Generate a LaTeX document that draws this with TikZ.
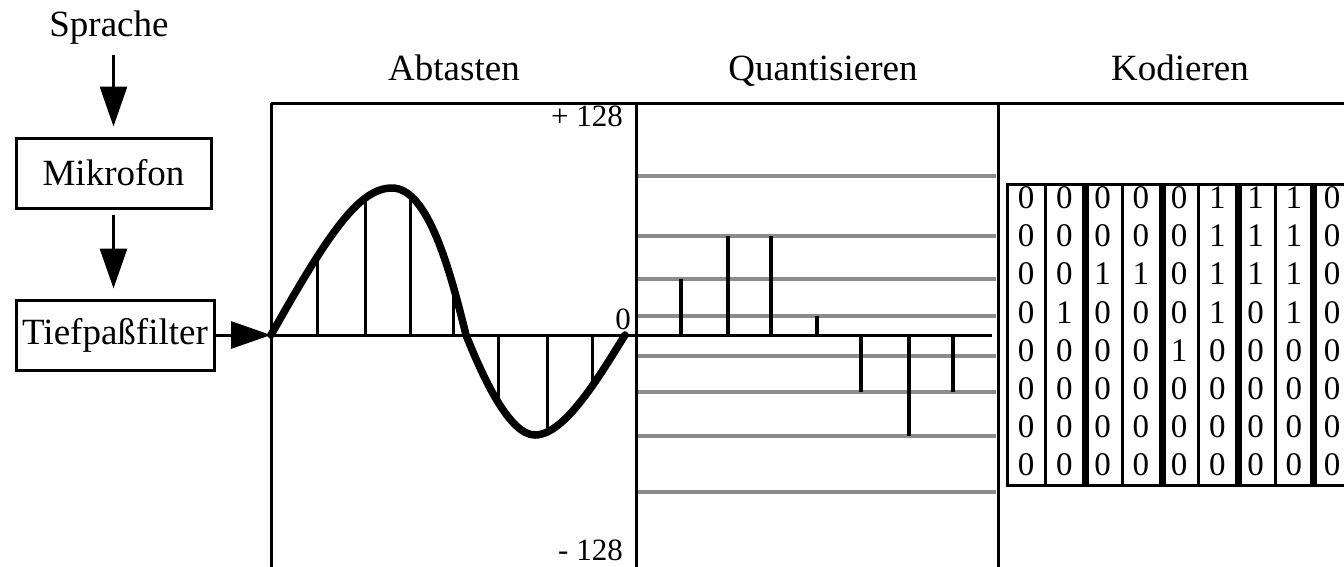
\documentclass[tikz,border=0pt]{standalone}
\usepackage{fontspec}
\setmainfont{Liberation Serif}
\usetikzlibrary{arrows.meta,positioning}
\tikzset{
  frame/.style  = { line width=3pt, black },
  wave/.style   = { line width=7.5pt, black, line cap=round },
  sample/.style = { line width=3pt, black },
  axis/.style   = { line width=3pt, black },
  qline/.style  = { line width=3.5pt, black!45 },
  qbar/.style   = { line width=4pt, black },
  box/.style    = { draw, line width=3pt, inner sep=0pt, minimum height=70pt },
  flow/.style   = { line width=3pt, -{Triangle[length=40pt,width=27pt]} },
  lbl/.style    = { inner sep=0pt, font=\fontsize{37}{42}\selectfont },
  num/.style    = { inner sep=0pt, font=\fontsize{31}{36}\selectfont },
  bit/.style    = { inner sep=0pt, font=\fontsize{33}{38}\selectfont },
  sep_thin/.style  = { line width=3pt, black },
  sep_thick/.style = { line width=7pt, black },
}
\begin{document}
\begin{tikzpicture}[x=1pt,y=-1pt]
    \useasboundingbox (0,0) rectangle (1344,566);

    % Signalweg links
    \node[lbl,anchor=base] (sprache) at (109,36) {Sprache};
    \node[box,minimum width=195pt,lbl] (mikro) at (113.5,173) {Mikrofon};
    \node[box,minimum width=198pt,lbl] (filter) at (115,335) {Tiefpaßfilter};
    \coordinate (in) at (271,335);

    \draw[flow,shorten <=11pt,shorten >=10pt] (sprache.south -| mikro.north) -- (mikro.north);
    \draw[flow,shorten <=5pt,shorten >=10pt] (mikro.south) -- (mikro.south |- filter.north);
    \draw[flow] (filter.east) -- (in);

    % Ueberschriften
    \node[lbl,anchor=base] (abt) at (454,80) {Abtasten};
    \node[lbl,anchor=base] (quant) at (823,80) {Quantisieren};
    \node[lbl,anchor=base] (kod) at (1180,80) {Kodieren};

    % Rahmen
    \draw[frame] (271,103) -- (1350,103);
    \draw[frame] (271,103) -- (271,570);
    \draw[frame] (636,103) -- (636,570);
    \draw[frame] (998,103) -- (998,570);

    % Quantisierungsstufen
    \draw[qline] (638,176) -- (996,176);
    \draw[qline] (638,236) -- (996,236);
    \draw[qline] (638,279) -- (996,279);
    \draw[qline] (638,316) -- (996,316);
    \draw[qline] (638,356) -- (996,356);
    \draw[qline] (638,392) -- (996,392);
    \draw[qline] (638,436) -- (996,436);
    \draw[qline] (638,492) -- (996,492);

    % Achse
    \draw[axis] (in) -- (992,335);

    \node[num,anchor=north east] (pmax) at (623,106) {+ 128};
    \node[num,anchor=south east] (pmin) at (623,561) {- 128};
    \node[num] (null) at (623,319) {0};

    % Abtastwerte
    \draw[sample] (317,335) -- (317,257);
    \draw[sample] (365,335) -- (365,201);
    \draw[sample] (410,335) -- (410,197);
    \draw[sample] (453,335) -- (453,290);
    \draw[sample] (498,335) -- (498,400);
    \draw[sample] (547,335) -- (547,430);
    \draw[sample] (592,335) -- (592,386);

    % Signal
    \draw[wave] (in) .. controls (330,230) and (360,188) .. (392,188)
        .. controls (428,188) and (450,270) .. (466,335)
        .. controls (484,380) and (510,435) .. (535,435)
        .. controls (565,435) and (600,375) .. (625,335);

    % quantisierte Werte
    \draw[qbar] (681,335) -- (681,279);
    \draw[qbar] (728,335) -- (728,236);
    \draw[qbar] (771,335) -- (771,236);
    \draw[qbar] (817,335) -- (817,316);
    \draw[qbar] (861,335) -- (861,392);
    \draw[qbar] (909,335) -- (909,436);
    \draw[qbar] (953,335) -- (953,392);

    % Kodierung
    \draw[frame] (1350,184) -- (1007,184) -- (1007,485) -- (1350,485);
    \draw[sep_thin] (1045,184) -- (1045,485);
    \draw[sep_thick] (1085,184) -- (1085,485);
    \draw[sep_thin] (1122,184) -- (1122,485);
    \draw[sep_thick] (1162,184) -- (1162,485);
    \draw[sep_thin] (1198,184) -- (1198,485);
    \draw[sep_thick] (1238,184) -- (1238,485);
    \draw[sep_thin] (1275,184) -- (1275,485);
    \draw[sep_thick] (1313,184) -- (1313,485);

    \foreach \b [count=\c] in {0,0,0,0,0,1,1,1,0}
        \node[bit] (b1\c) at ({1026+38.25*(\c-1)},198) {\b};
    \foreach \b [count=\c] in {0,0,0,0,0,1,1,1,0}
        \node[bit] (b2\c) at ({1026+38.25*(\c-1)},236) {\b};
    \foreach \b [count=\c] in {0,0,1,1,0,1,1,1,0}
        \node[bit] (b3\c) at ({1026+38.25*(\c-1)},274) {\b};
    \foreach \b [count=\c] in {0,1,0,0,0,1,0,1,0}
        \node[bit] (b4\c) at ({1026+38.25*(\c-1)},313) {\b};
    \foreach \b [count=\c] in {0,0,0,0,1,0,0,0,0}
        \node[bit] (b5\c) at ({1026+38.25*(\c-1)},351) {\b};
    \foreach \b [count=\c] in {0,0,0,0,0,0,0,0,0}
        \node[bit] (b6\c) at ({1026+38.25*(\c-1)},389) {\b};
    \foreach \b [count=\c] in {0,0,0,0,0,0,0,0,0}
        \node[bit] (b7\c) at ({1026+38.25*(\c-1)},427) {\b};
    \foreach \b [count=\c] in {0,0,0,0,0,0,0,0,0}
        \node[bit] (b8\c) at ({1026+38.25*(\c-1)},465) {\b};

\end{tikzpicture}
\end{document}
